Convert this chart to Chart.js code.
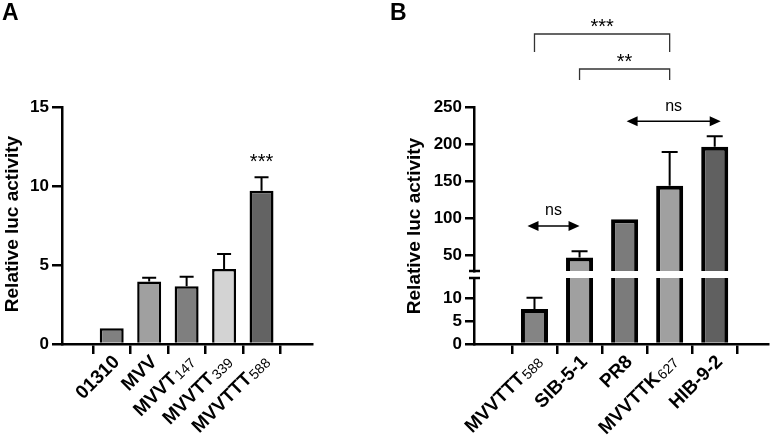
<!DOCTYPE html>
<html lang="en">
<head>
<meta charset="UTF-8">
<script src="https://cdn.jsdelivr.net/npm/chart.js"></script>
<title>Relative luc activity</title>
<style>
  body { margin: 0; background: #fff; }
  #wrap { position: relative; width: 778px; height: 438px; }
  canvas { position: absolute; top: 0; }
</style>
</head>
<body>
<div id="wrap">
  <canvas id="chartA" width="390" height="438" style="left:0"></canvas>
  <canvas id="chartBLow" width="388" height="438" style="left:390px"></canvas>
  <canvas id="chartBTop" width="388" height="438" style="left:390px"></canvas>
</div>

<script>
// ---- panel A data ----
const namesA = ['01310', 'MVV', 'MVVT', 'MVVTT', 'MVVTTT'];
const subsA = ['', '', '147', '339', '588'];
const meanA = [1.0, 3.95, 3.65, 4.75, 9.7];
const sdA = [0, 0.25, 0.6, 0.95, 0.85];
const colorsA = ['#808080', '#a0a0a0', '#7f7f7f', '#d3d3d3', '#636363'];
const ticksA = [0, 5, 10, 15];

// ---- panel B data ----
const namesB = ['MVVTTT', 'SIB-5-1', 'PR8', 'MVVTTK', 'HIB-9-2'];
const subsB = ['588', '', '', '627', ''];
const meanB = [7.6, 47.5, 99, 144, 196.5];
const sdB = [2.4, 8.5, 0, 45.5, 14];
const colorsB = ['#848484', '#a0a0a0', '#7b7b7b', '#a0a0a0', '#606060'];
const ticksBTop = [50, 100, 150, 200, 250];
const ticksBLow = [0, 5, 10];

const FONT = "'Liberation Sans', Arial, sans-serif";
Chart.defaults.font.family = FONT;
Chart.defaults.color = '#000';

// error bars (upper half only), clipped to the chart area
function errorBars(means, sds, capHalf, lw) {
  return {
    id: 'errorBars',
    afterDatasetsDraw(chart) {
      const ctx = chart.ctx, ys = chart.scales.y, a = chart.chartArea;
      const bars = chart.getDatasetMeta(0).data;
      ctx.save();
      ctx.beginPath();
      ctx.rect(a.left, a.top - 1, a.right - a.left, a.bottom - a.top + 1);
      ctx.clip();
      ctx.strokeStyle = '#000';
      ctx.lineWidth = lw;
      bars.forEach((bar, i) => {
        if (!sds[i]) return;
        const y1 = ys.getPixelForValue(means[i]);
        const y2 = ys.getPixelForValue(means[i] + sds[i]);
        ctx.beginPath();
        ctx.moveTo(bar.x, y1);
        ctx.lineTo(bar.x, y2);
        ctx.moveTo(bar.x - capHalf, y2);
        ctx.lineTo(bar.x + capHalf, y2);
        ctx.stroke();
      });
      ctx.restore();
    }
  };
}

// rotated (45 deg) category names with a plain subscript
function drawXLabels(chart, names, subs, size, subSize) {
  const ctx = chart.ctx, xs = chart.scales.x, y0 = chart.chartArea.bottom;
  names.forEach((name, i) => {
    const x = xs.getPixelForValue(i);
    ctx.save();
    ctx.translate(x + 5, y0 + 15);
    ctx.rotate(-Math.PI / 4);
    ctx.fillStyle = '#000';
    ctx.textBaseline = 'middle';
    ctx.textAlign = 'left';
    ctx.font = 'bold ' + size + 'px ' + FONT;
    const wm = ctx.measureText(name).width;
    ctx.font = subSize + 'px ' + FONT;
    const ws = subs[i] ? ctx.measureText(subs[i]).width + 1 : 0;
    ctx.font = 'bold ' + size + 'px ' + FONT;
    ctx.fillText(name, -wm - ws, 0);
    if (subs[i]) {
      ctx.font = subSize + 'px ' + FONT;
      ctx.fillText(subs[i], -ws + 1, 3);
    }
    ctx.restore();
  });
}

function drawYTitle(ctx, x, y) {
  ctx.save();
  ctx.translate(x, y);
  ctx.rotate(-Math.PI / 2);
  ctx.font = 'bold 19px ' + FONT;
  ctx.fillStyle = '#000';
  ctx.textAlign = 'center';
  ctx.textBaseline = 'middle';
  ctx.fillText('Relative luc activity', 0, 0);
  ctx.restore();
}

function panelLetter(ctx, letter, x) {
  ctx.save();
  ctx.font = 'bold 23px ' + FONT;
  ctx.fillStyle = '#000';
  ctx.textBaseline = 'top';
  ctx.fillText(letter, x, 2);
  ctx.restore();
}

function barData(means) {
  return means.map((v, i) => ({ x: i, y: v }));
}

function xScale(min, max, show, lw) {
  return {
    type: 'linear',
    display: show,
    min: min,
    max: max,
    afterBuildTicks: s => { s.ticks = namesA.map((_, i) => ({ value: i })); },
    afterFit: s => { s.height = 0; },
    ticks: { display: false },
    grid: { drawOnChartArea: false, drawTicks: true, tickLength: 10, color: '#000', lineWidth: lw },
    border: { display: true, color: '#000', width: lw }
  };
}

function yScale(min, max, ticks, width, size, tl, lw) {
  return {
    min: min,
    max: max,
    afterBuildTicks: s => { s.ticks = ticks.map(v => ({ value: v })); },
    afterFit: s => { s.width = width; },
    ticks: { font: { size: size, weight: 'bold' }, padding: 3, color: '#000' },
    grid: { drawOnChartArea: false, drawTicks: true, tickLength: tl, color: '#000', lineWidth: lw },
    border: { display: true, color: '#000', width: lw }
  };
}

const common = {
  responsive: false,
  animation: false,
  devicePixelRatio: 1,
  plugins: { legend: { display: false }, tooltip: { enabled: false } }
};

// ---- panel A ----
new Chart(document.getElementById('chartA'), {
  type: 'bar',
  data: {
    datasets: [{
      data: barData(meanA),
      backgroundColor: colorsA,
      borderColor: '#000',
      borderWidth: 2.5,
      barPercentage: 0.64,
      categoryPercentage: 1,
      clip: 0
    }]
  },
  options: Object.assign({}, common, {
    layout: { padding: { left: 0, right: 78, top: 107, bottom: 94 } },
    scales: {
      x: xScale(-0.66, 4.68, true, 2.5),
      y: yScale(0, 15, ticksA, 62, 17, 10, 2.5)
    }
  }),
  plugins: [errorBars(meanA, sdA, 7, 2), {
    id: 'decorA',
    afterDraw(chart) {
      const ctx = chart.ctx;
      drawXLabels(chart, namesA, subsA, 19, 14);
      drawYTitle(ctx, 13, 224);
      panelLetter(ctx, 'A', 2);
      // significance mark over the last bar
      const bar = chart.getDatasetMeta(0).data[4];
      ctx.save();
      ctx.font = '20px ' + FONT;
      ctx.textAlign = 'center';
      ctx.textBaseline = 'middle';
      ctx.fillStyle = '#000';
      ctx.fillText('***', bar.x, 162);
      ctx.restore();
    }
  }]
});

// ---- panel B, lower segment (0 - 14) ----
new Chart(document.getElementById('chartBLow'), {
  type: 'bar',
  data: {
    datasets: [{
      data: barData(meanB),
      backgroundColor: colorsB,
      borderColor: '#000',
      borderWidth: 4,
      barPercentage: 0.6,
      categoryPercentage: 1,
      clip: 0
    }]
  },
  options: Object.assign({}, common, {
    layout: { padding: { left: 0, right: 10, top: 278, bottom: 94 } },
    scales: {
      x: xScale(-0.69, 4.53, true, 2.5),
      y: yScale(0, 14.3, ticksBLow, 84, 17, 9, 2.5)
    }
  }),
  plugins: [errorBars(meanB, sdB, 8, 2), {
    id: 'decorBLow',
    afterDraw(chart) {
      drawXLabels(chart, namesB, subsB, 19, 14);
      const ctx = chart.ctx, a = chart.chartArea;
      ctx.save();
      ctx.strokeStyle = '#000';
      ctx.lineWidth = 2.5;
      ctx.beginPath();
      ctx.moveTo(a.left - 5, a.top);
      ctx.lineTo(a.left + 6, a.top);
      ctx.stroke();
      ctx.restore();
    }
  }]
});

// ---- panel B, upper segment (29 - 250) ----
new Chart(document.getElementById('chartBTop'), {
  type: 'bar',
  data: {
    datasets: [{
      data: barData(meanB),
      backgroundColor: colorsB,
      borderColor: '#000',
      borderWidth: 4,
      barPercentage: 0.6,
      categoryPercentage: 1,
      clip: 0
    }]
  },
  options: Object.assign({}, common, {
    layout: { padding: { left: 0, right: 10, top: 107, bottom: 167 } },
    scales: {
      x: xScale(-0.69, 4.53, false, 2.5),
      y: yScale(29.4, 250, ticksBTop, 84, 17, 9, 2.5)
    }
  }),
  plugins: [errorBars(meanB, sdB, 8, 2), {
    id: 'decorBTop',
    afterDraw(chart) {
      const ctx = chart.ctx, a = chart.chartArea;
      const xs = chart.scales.x, ys = chart.scales.y;
      const px = i => xs.getPixelForValue(i);
      drawYTitle(ctx, 25, 226);
      panelLetter(ctx, 'B', 0);

      ctx.save();
      // axis break mark
      ctx.strokeStyle = '#000';
      ctx.lineWidth = 2.5;
      ctx.beginPath();
      ctx.moveTo(a.left - 5, a.bottom);
      ctx.lineTo(a.left + 6, a.bottom);
      ctx.stroke();

      // comparison brackets
      ctx.strokeStyle = '#333';
      ctx.lineWidth = 1.3;
      ctx.fillStyle = '#000';
      ctx.font = '20px ' + FONT;
      ctx.textAlign = 'center';
      ctx.textBaseline = 'middle';
      [[0, 3, 34, 52, '***', 27], [1, 3, 69, 80, '**', 62]].forEach(([i, j, yb, yl, txt, yt]) => {
        ctx.beginPath();
        ctx.moveTo(px(i), yl);
        ctx.lineTo(px(i), yb);
        ctx.lineTo(px(j), yb);
        ctx.lineTo(px(j), yl);
        ctx.stroke();
        ctx.fillText(txt, (px(i) + px(j)) / 2, yt);
      });

      // "ns" double arrows
      ctx.strokeStyle = '#000';
      ctx.lineWidth = 1.5;
      ctx.font = '16px ' + FONT;
      const arrow = (x1, x2, y, label) => {
        ctx.beginPath();
        ctx.moveTo(x1 + 6, y);
        ctx.lineTo(x2 - 6, y);
        ctx.stroke();
        ctx.beginPath();
        ctx.moveTo(x1, y); ctx.lineTo(x1 + 11, y - 5); ctx.lineTo(x1 + 11, y + 5); ctx.closePath();
        ctx.moveTo(x2, y); ctx.lineTo(x2 - 11, y - 5); ctx.lineTo(x2 - 11, y + 5); ctx.closePath();
        ctx.fill();
        ctx.fillText(label, (x1 + x2) / 2, y - 15);
      };
      arrow(px(2) + 2, px(4) + 6, ys.getPixelForValue(231), 'ns');
      arrow(px(0) - 7, px(1), ys.getPixelForValue(90), 'ns');
      ctx.restore();
    }
  }]
});
</script>
</body>
</html>
